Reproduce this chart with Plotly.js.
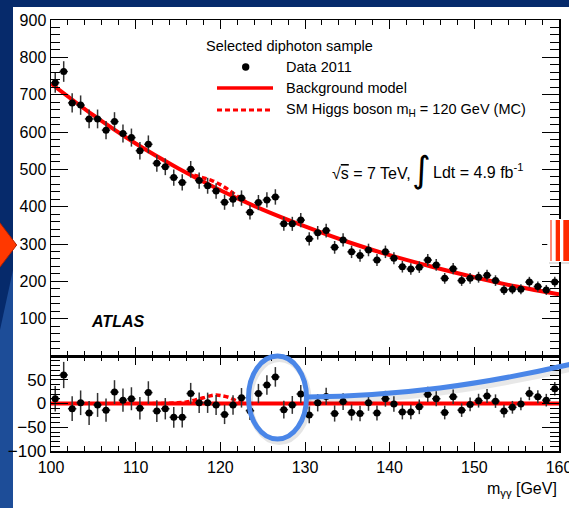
<!DOCTYPE html>
<html>
<head>
<meta charset="utf-8">
<script src="https://cdn.plot.ly/plotly-3.0.1.min.js"></script>
<style>html,body{margin:0;padding:0;background:#062a6b;}#chart{width:569px;height:508px;}</style>
</head>
<body>
<div id="chart"></div>
<script>
// ---- data ----
const massBins = [100.5,101.5,102.5,103.5,104.5,105.5,106.5,107.5,108.5,109.5,
  110.5,111.5,112.5,113.5,114.5,115.5,116.5,117.5,118.5,119.5,
  120.5,121.5,122.5,123.5,124.5,125.5,126.5,127.5,128.5,129.5,
  130.5,131.5,132.5,133.5,134.5,135.5,136.5,137.5,138.5,139.5,
  140.5,141.5,142.5,143.5,144.5,145.5,146.5,147.5,148.5,149.5,
  150.5,151.5,152.5,153.5,154.5,155.5,156.5,157.5,158.5,159.5];
const eventsData = [732,762,678,672,635,635,605,628,596,585,
  550,567,516,507,478,465,500,470,456,442,
  412,420,423,385,411,418,426,354,354,364,
  314,330,336,291,311,279,269,284,257,279,
  262,239,233,238,257,244,208,234,202,208,
  211,216,202,177,179,179,198,186,177,198];
const residualData = [10,60,-11,1.5,-20,-3,-14,24,7,10,
  -10,23,-16,-11,-29,-29,21,1.5,1.5,-3,
  -23,-3,12,-15,21,39,56,-13,-3,20,
  -24,1.5,15,-21,4,-19,-21,1.5,-20,10,
  -1,-18,-18,-7,19,10,-19,14,-14,-2,
  6,16,5,-16,-8,-1,21,14,7,31];
const bgMass = [100,105,110,115,120,125,130,135,140,145,150,155,160];
const bgModel = [730,645,569,503,444,392,347,306,270,239,211,186,165];
const sigMass = [116,117,118,119,120,121,122,123];
const sigModel = [491,484,477,470,459,445,428,413];
const sigResMass = [112,114,115,116,117,118,119,119.5,120,121,122,123];
const sigResidual = [0,0.5,1.5,3,7,12,17,18,17,13,5,0];
const zeroMass = [100,160];
const zeroLine = [0,0];
const yTopTicks = [100,200,300,400,500,600,700,800,900];
const yBotTicks = [-100,-50,0,50];
const xTicks = [100,110,120,130,140,150,160];

// ---- pixel helpers for decorations ----
const L=51, R=559, T=20, B=451;
const PX = x => (x-L)/(R-L);
const PY = y => (B-y)/(B-T);
const split = PY(356);

const font = 'Liberation Sans, Arial, Helvetica, sans-serif';
const red = '#ff0000';
const errStyle = {color:'#333', thickness:1.5, width:0};

const traces = [
  {x:sigMass, y:sigModel, xaxis:'x2', yaxis:'y2', mode:'lines', line:{color:red, width:3.5, dash:'5px,3px', shape:'spline'}, hoverinfo:'skip'},
  {x:bgMass, y:bgModel, xaxis:'x2', yaxis:'y2', mode:'lines', line:{color:red, width:4, shape:'spline'}},
  {x:massBins, y:eventsData, xaxis:'x2', yaxis:'y2', mode:'markers', marker:{color:'black', size:7},
    error_y:Object.assign({type:'sqrt'}, errStyle), error_x:Object.assign({type:'constant', value:0.5}, errStyle)},
  {x:sigResMass, y:sigResidual, xaxis:'x', yaxis:'y', mode:'lines', line:{color:red, width:3.5, dash:'5px,3px', shape:'spline'}},
  {x:zeroMass, y:zeroLine, xaxis:'x', yaxis:'y', mode:'lines', line:{color:red, width:4}},
  {x:massBins, y:residualData, xaxis:'x', yaxis:'y', mode:'markers', marker:{color:'black', size:7},
    error_y:Object.assign({type:'data', array:eventsData.map(Math.sqrt)}, errStyle), error_x:Object.assign({type:'constant', value:0.5}, errStyle)}
];

const axBase = {showline:true, linecolor:'black', linewidth:1.5, mirror:'ticks', ticks:'inside', tickcolor:'black', tickwidth:1,
  zeroline:false, showgrid:false, ticklabeloverflow:'allow', tickfont:{family:font, size:16, color:'black'}};

const layout = {
  width:569, height:508, showlegend:false,
  margin:{l:L, r:569-R, t:T, b:508-B, pad:0},
  paper_bgcolor:'#062a6b', plot_bgcolor:'rgba(0,0,0,0)',
  font:{family:font, color:'black'},
  xaxis:Object.assign({}, axBase, {range:[100,160], anchor:'y', tickmode:'array', tickvals:xTicks, ticklen:9,
     minor:{tickmode:'linear', tick0:100, dtick:2, ticklen:5, ticks:'inside', tickcolor:'black'}, ticklabelstandoff:1}),
  yaxis:Object.assign({}, axBase, {domain:[0, split], range:[-100,100], tickmode:'array', tickvals:yBotTicks, ticklen:17,
     minor:{tickmode:'linear', tick0:0, dtick:10, ticklen:9, ticks:'inside', tickcolor:'black'}, tickfont:{family:font, size:17, color:'black'}}),
  xaxis2:Object.assign({}, axBase, {range:[100,160], anchor:'y2', matches:'x', showticklabels:false, tickmode:'array', tickvals:xTicks, ticklen:9,
     minor:{tickmode:'linear', tick0:100, dtick:2, ticklen:5, ticks:'inside', tickcolor:'black'}}),
  yaxis2:Object.assign({}, axBase, {domain:[split, 1], range:[0,900], tickmode:'array', tickvals:yTopTicks, ticklen:17,
     minor:{tickmode:'linear', tick0:0, dtick:20, ticklen:9, ticks:'inside', tickcolor:'black'}}),
  shapes:[
    // white slide panel
    {type:'rect', xref:'paper', yref:'paper', x0:PX(13), x1:PX(572), y0:PY(512), y1:PY(7), fillcolor:'white', line:{width:0}, layer:'below'},
    // lighter blue on left strip
    {type:'path', xref:'paper', yref:'paper', path:`M ${PX(0)} ${PY(330)} L ${PX(13)} ${PY(270)} L ${PX(13)} ${PY(512)} L ${PX(0)} ${PY(512)} Z`, fillcolor:'#1d4d98', line:{width:0}, layer:'below'},
    // orange arrow tip
    {type:'path', xref:'paper', yref:'paper', path:`M ${PX(-1)} ${PY(221.7)} L ${PX(16.7)} ${PY(245)} L ${PX(-1)} ${PY(268.3)} Z`, fillcolor:'#ff3800', line:{color:'#b02000', width:1}, layer:'above'},
    // striped red box on the right
    {type:'rect', xref:'paper', yref:'paper', x0:PX(549), x1:PX(572), y0:PY(264), y1:PY(221), fillcolor:'rgba(0,0,0,0.12)', line:{width:0}, layer:'above'},
    {type:'rect', xref:'paper', yref:'paper', x0:PX(547.3), x1:PX(572), y0:PY(262), y1:PY(219), fillcolor:'white', line:{width:0}, layer:'above'},
    {type:'rect', xref:'paper', yref:'paper', x0:PX(550), x1:PX(552), y0:PY(261), y1:PY(220), fillcolor:'#ff8c7a', line:{width:0}, layer:'above'},
    {type:'rect', xref:'paper', yref:'paper', x0:PX(555.7), x1:PX(560), y0:PY(261), y1:PY(220), fillcolor:'#ff2a00', line:{width:0}, layer:'above'},
    {type:'rect', xref:'paper', yref:'paper', x0:PX(563.3), x1:PX(572), y0:PY(261), y1:PY(220), fillcolor:'#ff2a00', line:{width:0}, layer:'above'},
    // blue highlight ellipse and curve (shadows first)
    {type:'path', xref:'paper', yref:'paper', path:`M ${PX(309)} ${PY(401)} C ${PX(400)} ${PY(400)}, ${PX(480)} ${PY(389)}, ${PX(572)} ${PY(368)}`, line:{color:'rgba(0,0,0,0.09)', width:7}, layer:'above'},
    {type:'circle', xref:'paper', yref:'paper', x0:PX(250), x1:PX(308.5), y0:PY(442), y1:PY(359), line:{color:'rgba(0,0,0,0.1)', width:6}, layer:'above'},
    {type:'circle', xref:'paper', yref:'paper', x0:PX(248.5), x1:PX(306.5), y0:PY(439), y1:PY(356), line:{color:'#4a86e8', width:5}, layer:'above'},
    {type:'path', xref:'paper', yref:'paper', path:`M ${PX(306)} ${PY(397)} C ${PX(400)} ${PY(396)}, ${PX(480)} ${PY(385)}, ${PX(572)} ${PY(364)}`, line:{color:'#4a86e8', width:5}, layer:'above'},
    // legend symbols
    {type:'circle', xref:'paper', yref:'paper', x0:PX(242), x1:PX(249.4), y0:PY(70.7), y1:PY(63.3), fillcolor:'black', line:{width:0}},
    {type:'line', xref:'paper', yref:'paper', x0:PX(217), x1:PX(273), y0:PY(88), y1:PY(88), line:{color:red, width:3.5}},
    {type:'line', xref:'paper', yref:'paper', x0:PX(217), x1:PX(273), y0:PY(110), y1:PY(110), line:{color:red, width:3, dash:'5px,3px'}}
  ],
  annotations:[
    {xref:'paper', yref:'paper', x:PX(289), y:PY(46), xanchor:'center', yanchor:'middle', showarrow:false, text:'Selected diphoton sample', font:{family:font, size:14.5, color:'black'}},
    {xref:'paper', yref:'paper', x:PX(284), y:PY(67), xanchor:'left', yanchor:'middle', showarrow:false, text:'Data 2011', font:{family:font, size:14.5, color:'black'}},
    {xref:'paper', yref:'paper', x:PX(284), y:PY(88), xanchor:'left', yanchor:'middle', showarrow:false, text:'Background model', font:{family:font, size:14.5, color:'black'}},
    {xref:'paper', yref:'paper', x:PX(284), y:PY(110), xanchor:'left', yanchor:'middle', showarrow:false, text:'SM Higgs boson m<sub>H</sub> = 120 GeV (MC)', font:{family:font, size:14.5, color:'black'}},
    {xref:'paper', yref:'paper', x:PX(413), y:PY(173), xanchor:'right', yanchor:'middle', showarrow:false, text:'√<span style="text-decoration:overline">s</span> = 7 TeV,', font:{family:font, size:16, color:'black'}},
    {xref:'paper', yref:'paper', x:PX(421), y:PY(170), xanchor:'center', yanchor:'middle', showarrow:false, text:'∫', font:{family:'DejaVu Sans, sans-serif', size:36, color:'black'}},
    {xref:'paper', yref:'paper', x:PX(431), y:PY(171), xanchor:'left', yanchor:'middle', showarrow:false, text:'Ldt = 4.9 fb<sup>-1</sup>', font:{family:font, size:16, color:'black'}},
    {xref:'paper', yref:'paper', x:PX(89), y:PY(321), xanchor:'left', yanchor:'middle', showarrow:false, text:'<b><i>ATLAS</i></b>', font:{family:font, size:16, color:'black'}},
    {xref:'paper', yref:'paper', x:PX(559), y:PY(490), xanchor:'right', yanchor:'middle', showarrow:false, text:'m<sub>γγ</sub> [GeV]', font:{family:font, size:16, color:'black'}}
  ]
};

Plotly.newPlot('chart', traces, layout, {staticPlot:true, displayModeBar:false});
</script>
</body>
</html>
